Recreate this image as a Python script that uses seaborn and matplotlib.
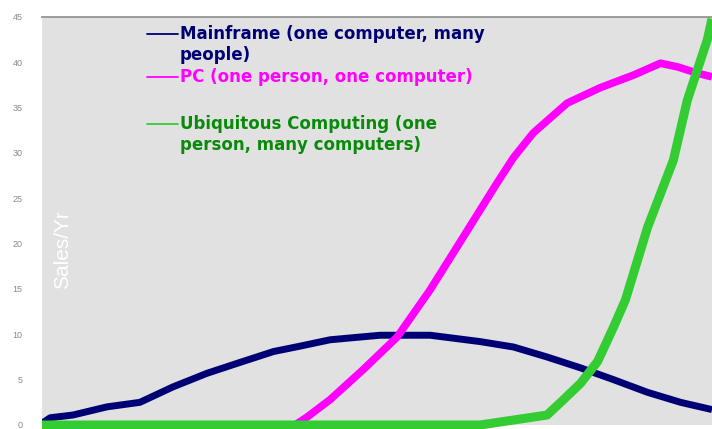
import numpy as np
import pandas as pd
import matplotlib
matplotlib.use("Agg")
import matplotlib.pyplot as plt
import seaborn as sns

# curves (x in arbitrary time units, y in sales/yr)
mainframe_x = [0, 0.16, 0.6, 1.26, 1.9, 2.54, 3.2, 3.84, 4.49, 5.01, 5.59, 6.56,
               7.53, 8.5, 9.15, 9.8, 10.45, 11.09, 11.75, 12.39, 13.0]
mainframe_y = [0.2, 0.8, 1.1, 2.0, 2.5, 4.2, 5.7, 6.9, 8.1, 8.7, 9.4, 9.9,
               9.9, 9.2, 8.6, 7.5, 6.3, 5.0, 3.6, 2.5, 1.7]

pc_x = [0, 4.91, 5.15, 5.59, 6.23, 6.89, 7.53, 8.17, 8.83, 9.15, 9.53, 10.19,
        10.83, 11.48, 12.0, 12.33, 12.72, 13.0]
pc_y = [0, 0, 0.9, 2.8, 6.1, 9.7, 14.9, 20.7, 26.7, 29.5, 32.2, 35.5,
        37.2, 38.6, 39.9, 39.5, 38.8, 38.4]

ubi_x = [0, 8.5, 9.15, 9.8, 10.12, 10.45, 10.78, 11.09, 11.32, 11.75, 12.25, 12.52, 12.91, 13.0]
ubi_y = [0, 0, 0.55, 1.1, 2.8, 4.6, 7.0, 10.8, 13.8, 21.8, 29.2, 35.8, 42.5, 44.8]

yticks = [0, 5, 10, 15, 20, 25, 30, 35, 40, 45]

labels = {
    "mainframe": ["Mainframe (one computer, many", "people)"],
    "pc": ["PC (one person, one computer)"],
    "ubi": ["Ubiquitous Computing (one", "person, many computers)"],
}

sns.set_style("white", {"axes.facecolor": "#e1e1e1"})
plt.rcParams["font.family"] = ["Liberation Sans", "DejaVu Sans"]

fig = plt.figure(figsize=(7.12, 4.29), dpi=100)
ax = fig.add_axes([42 / 712, 4 / 429, 670 / 712, 408 / 429])

navy, magenta, green = "#000075", "#ff00ff", "#33cc33"
style = dict(solid_joinstyle="round", solid_capstyle="butt")

sns.lineplot(x=mainframe_x, y=mainframe_y, ax=ax, color=navy, linewidth=5, **style)
sns.lineplot(x=pc_x, y=pc_y, ax=ax, color=magenta, linewidth=5.5, **style)
sns.lineplot(x=ubi_x, y=ubi_y, ax=ax, color=green, linewidth=6.5, clip_on=False, **style)

ax.set_xlim(0, 13)
ax.set_ylim(0, 45)
ax.set_yticks(yticks)
ax.set_yticklabels([str(v) for v in yticks], color="#8a8a8a", fontsize=6.5)
ax.set_xticks(range(0, 14))
ax.set_xticklabels([])
ax.tick_params(axis="both", direction="in", length=4, color="white", width=1)
ax.tick_params(axis="y", pad=14)
for side in ["left", "right", "bottom"]:
    ax.spines[side].set_visible(False)
ax.spines["top"].set_color("#8c8c8c")
ax.spines["top"].set_linewidth(1.2)
ax.set_xlabel("")
ax.set_ylabel("")

ax.text(0.03, 0.43, "Sales/Yr", transform=ax.transAxes, rotation=90,
        color="white", fontsize=15, ha="center", va="center")

# legend drawn as free text with short handle lines
text_x = 0.206
entries = [
    ("mainframe", navy, navy, 0.958),
    ("pc", magenta, magenta, 0.853),
    ("ubi", green, "#0a8a0a", 0.738),
]
for key, lcol, tcol, y0 in entries:
    ax.plot([0.157, 0.203], [y0, y0], transform=ax.transAxes, color=lcol, linewidth=1.3)
    for k, line in enumerate(labels[key]):
        ax.text(text_x, y0 - k * 0.051, line, transform=ax.transAxes, color=tcol,
                fontsize=12, fontweight="bold", ha="left", va="center",
                family=["DejaVu Sans"])

fig.savefig("out.png", dpi=100)
